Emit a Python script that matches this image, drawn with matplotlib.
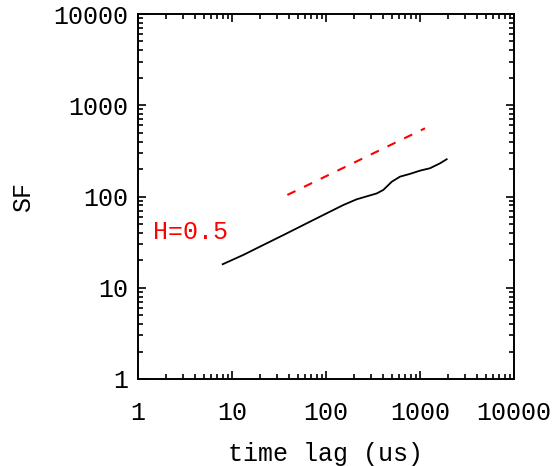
import numpy as np
import matplotlib
matplotlib.use("Agg")
import matplotlib.pyplot as plt
from matplotlib.ticker import LogLocator, FixedFormatter, FixedLocator, NullFormatter

# structure function vs time lag
lag = [7.96, 13.2, 21.5, 35.2, 57.4, 93.6, 153, 212, 346, 407, 500, 613, 783,
       1000, 1277, 1633, 1923]
sf = [18.1, 22.9, 29.4, 37.8, 48.7, 62.7, 80.7, 93.2, 108, 118, 145, 165, 177,
      192, 204, 231, 256]

# reference slope H=0.5
ref_lag = [38.8, 1130]
ref_sf = [104, 559]

decades = [1, 10, 100, 1000, 10000]
decade_labels = ["1", "10", "100", "1000", "10000"]

plt.rcParams['font.family'] = ['Liberation Mono', 'DejaVu Sans']
plt.rcParams['font.size'] = 18

fig = plt.figure(figsize=(5.54, 4.66), dpi=100)
ax = fig.add_axes([138 / 554, 1 - 379 / 466, 376 / 554, 365 / 466])

ax.plot(lag, sf, color='black', lw=1.3)
ax.plot(ref_lag, ref_sf, color='red', lw=1.5, dashes=(4.3, 4.6))

ax.set_xscale('log')
ax.set_yscale('log')
ax.set_xlim(1, 10000)
ax.set_ylim(1, 10000)

for axis in (ax.xaxis, ax.yaxis):
    axis.set_major_locator(FixedLocator(decades))
    axis.set_major_formatter(FixedFormatter(decade_labels))
    axis.set_minor_locator(LogLocator(base=10, subs=np.arange(2, 10)))
    axis.set_minor_formatter(NullFormatter())

ax.tick_params(which='both', direction='in', top=True, right=True, width=1.2)
ax.tick_params(which='major', length=6)
ax.tick_params(which='minor', length=3.5)
ax.tick_params(axis='x', pad=16)
ax.tick_params(axis='y', pad=7)
for s in ax.spines.values():
    s.set_linewidth(1.4)

# label placed in figure pixels (origin bottom-left)
ax.text(153, 466 - 232, "H=0.5", color='red', ha='left', va='center',
        transform=None)
ax.set_xlabel("time lag (us)", labelpad=12)
ax.set_ylabel("SF", labelpad=13)

fig.savefig("out.png", dpi=100)
